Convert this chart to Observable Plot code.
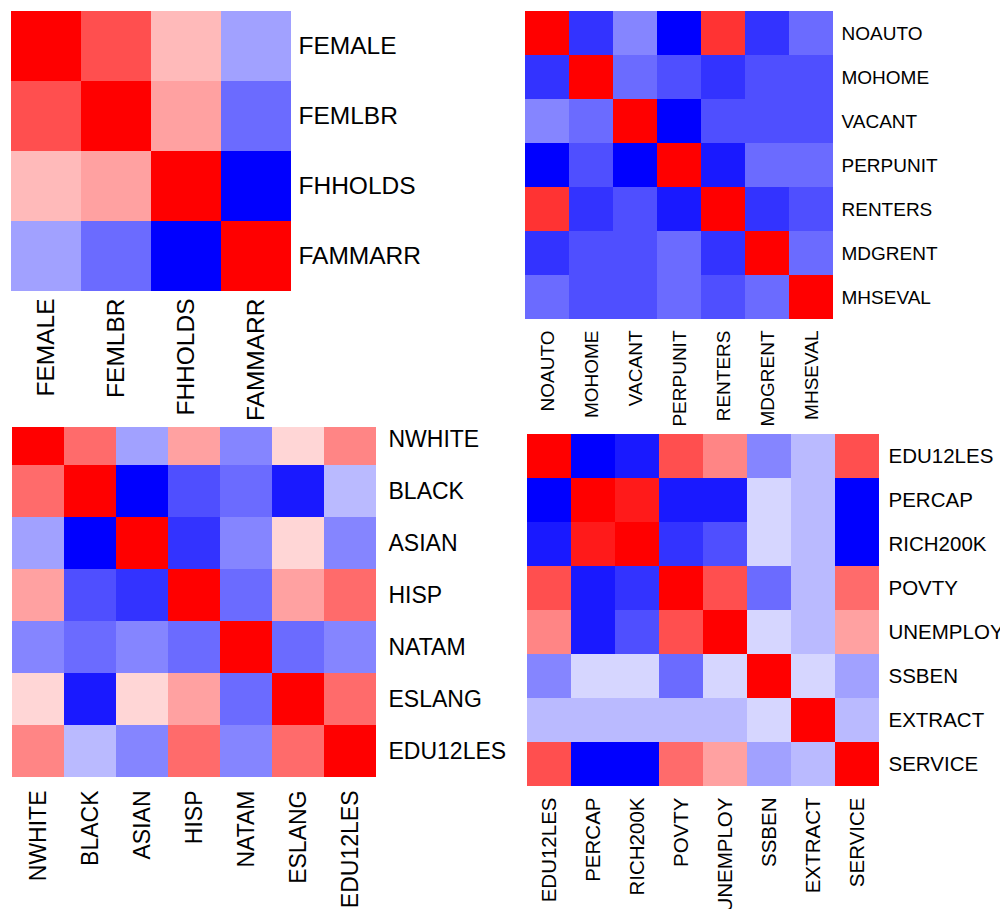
<!DOCTYPE html>
<html><head><meta charset="utf-8">
<script src="https://cdn.jsdelivr.net/npm/d3@7"></script>
<script src="https://cdn.jsdelivr.net/npm/@observablehq/plot@0.6"></script>
<style>
html,body{margin:0;padding:0;background:#fff}
body{width:1000px;height:909px;overflow:hidden;position:relative;font-family:"Liberation Sans",Arial,sans-serif}
.panel{position:absolute}
#p1{background:#fff;width:500px;height:427px;overflow:hidden;z-index:2}
</style></head><body>
<div id="p3" class="panel" style="left:0px;top:394px"></div>
<div id="p4" class="panel" style="left:500px;top:410px"></div>
<div id="p1" class="panel" style="left:0px;top:0px"></div>
<div id="p2" class="panel" style="left:500px;top:0px"></div>
<script>
// Panel 1: female / family variables
const familyVars = ["FEMALE", "FEMLBR", "FHHOLDS", "FAMMARR"];
const familyCorr = [
  [1, 0.69, 0.27, -0.37],
  [0.69, 1, 0.37, -0.58],
  [0.27, 0.37, 1, -1],
  [-0.37, -0.58, -1, 1]
];

// Panel 2: housing variables
const housingVars = ["NOAUTO", "MOHOME", "VACANT", "PERPUNIT", "RENTERS", "MDGRENT", "MHSEVAL"];
const housingCorr = [
  [1, -0.8, -0.48, -1, 0.8, -0.8, -0.58],
  [-0.8, 1, -0.58, -0.69, -0.8, -0.69, -0.69],
  [-0.48, -0.58, 1, -1, -0.69, -0.69, -0.69],
  [-1, -0.69, -1, 1, -0.9, -0.58, -0.58],
  [0.8, -0.8, -0.69, -0.9, 1, -0.8, -0.69],
  [-0.8, -0.69, -0.69, -0.58, -0.8, 1, -0.58],
  [-0.58, -0.69, -0.69, -0.58, -0.69, -0.58, 1]
];

// Panel 3: race / ethnicity variables
const raceVars = ["NWHITE", "BLACK", "ASIAN", "HISP", "NATAM", "ESLANG", "EDU12LES"];
const raceCorr = [
  [1, 0.58, -0.37, 0.37, -0.48, 0.16, 0.48],
  [0.58, 1, -1, -0.69, -0.58, -0.9, -0.27],
  [-0.37, -1, 1, -0.8, -0.48, 0.16, -0.48],
  [0.37, -0.69, -0.8, 1, -0.58, 0.37, 0.58],
  [-0.48, -0.58, -0.48, -0.58, 1, -0.58, -0.48],
  [0.16, -0.9, 0.16, 0.37, -0.58, 1, 0.58],
  [0.48, -0.27, -0.48, 0.58, -0.48, 0.58, 1]
];

// Panel 4: economic variables
const econVars = ["EDU12LES", "PERCAP", "RICH200K", "POVTY", "UNEMPLOY", "SSBEN", "EXTRACT", "SERVICE"];
const econCorr = [
  [1, -1, -0.9, 0.69, 0.48, -0.48, -0.27, 0.69],
  [-1, 1, 0.9, -0.9, -0.9, -0.16, -0.27, -1],
  [-0.9, 0.9, 1, -0.8, -0.69, -0.16, -0.27, -1],
  [0.69, -0.9, -0.8, 1, 0.69, -0.58, -0.27, 0.58],
  [0.48, -0.9, -0.69, 0.69, 1, -0.16, -0.27, 0.37],
  [-0.48, -0.16, -0.16, -0.58, -0.16, 1, -0.16, -0.37],
  [-0.27, -0.27, -0.27, -0.27, -0.27, -0.16, 1, -0.27],
  [0.69, -1, -1, 0.58, 0.37, -0.37, -0.27, 1]
];

function heat(names, matrix, o) {
  const cells = [];
  names.forEach((r, i) => names.forEach((c, j) => cells.push({row: r, col: c, value: matrix[i][j]})));
  return Plot.plot({
    width: o.ml + o.w + o.mr,
    height: o.mt + o.h + o.mb,
    marginLeft: o.ml, marginTop: o.mt, marginRight: o.mr, marginBottom: o.mb,
    style: {background: "transparent", fontFamily: "'Liberation Sans', Arial, sans-serif", fontSize: o.fs + "px", color: "#000"},
    x: {domain: names, padding: 0, label: null},
    y: {domain: names, padding: 0, label: null},
    color: {type: "linear", domain: [-1, 0, 1], range: ["#0000ff", "#ffffff", "#ff0000"], interpolate: "rgb", clamp: true},
    marks: [
      Plot.cell(cells, {x: "col", y: "row", fill: "value", inset: 0, shapeRendering: "crispEdges"}),
      Plot.axisX({anchor: "bottom", tickSize: 0, tickPadding: o.px, tickRotate: -90, label: null, fontSize: o.fs, fill: "#000"}),
      Plot.axisY({anchor: "right", tickSize: 0, tickPadding: o.py, label: null, fontSize: o.fs, fill: "#000"})
    ]
  });
}

document.getElementById("p1").append(heat(familyVars, familyCorr, {ml: 11, mt: 11, w: 280, h: 280, mr: 209, mb: 136, fs: 24.5, px: 7, py: 7}));
document.getElementById("p2").append(heat(housingVars, housingCorr, {ml: 25, mt: 11, w: 308, h: 308, mr: 167, mb: 112, fs: 19, px: 11, py: 8}));
document.getElementById("p3").append(heat(raceVars, raceCorr, {ml: 10, mt: 17, w: 368, h: 368, mr: 142, mb: 130, fs: 23, px: 11, py: 10}));
document.getElementById("p4").append(heat(econVars, econCorr, {ml: 26, mt: 23, w: 353, h: 354, mr: 121, mb: 122, fs: 20.5, px: 10, py: 9}));
</script>
</body></html>
